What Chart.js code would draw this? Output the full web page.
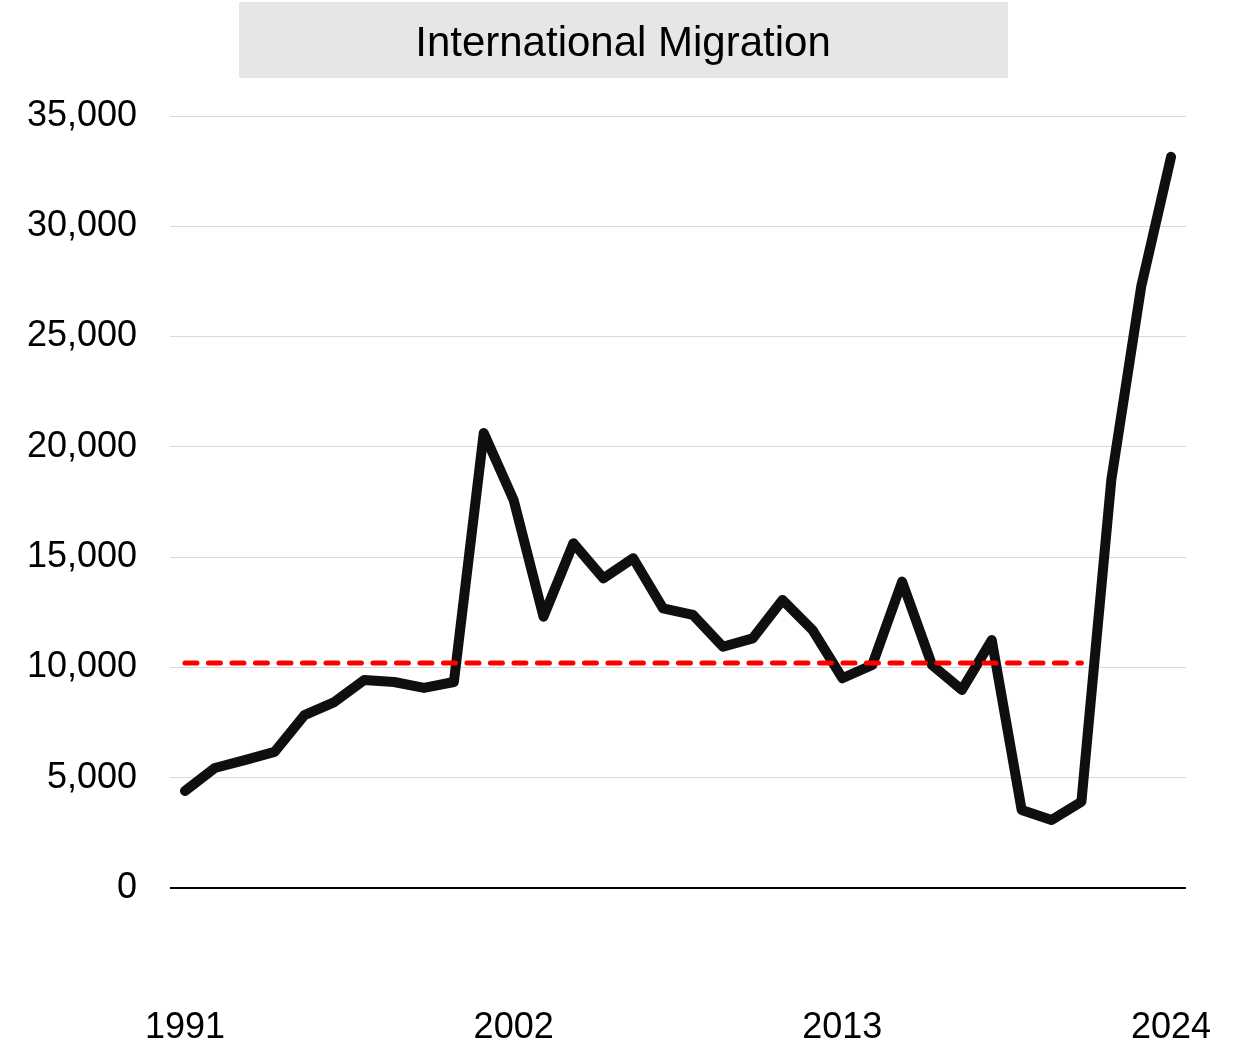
<!DOCTYPE html>
<html>
<head>
<meta charset="utf-8">
<title>International Migration</title>
<script src="https://cdn.jsdelivr.net/npm/chart.js@4.4.1/dist/chart.umd.min.js"></script>
<style>
  html, body { margin: 0; padding: 0; background: #ffffff; }
  #wrap { position: relative; width: 1234px; height: 1044px; }
</style>
</head>
<body>
<div id="wrap"><canvas id="migrationChart" width="1234" height="1044"></canvas></div>
<script>
// International Migration

const years = ['1991', '1992', '1993', '1994', '1995', '1996', '1997', '1998', '1999', '2000',
    '2001', '2002', '2003', '2004', '2005', '2006', '2007', '2008', '2009', '2010',
    '2011', '2012', '2013', '2014', '2015', '2016', '2017', '2018', '2019', '2020',
    '2021', '2022', '2023', '2024'];

const migration = [4400, 5440, 5800, 6170, 7840, 8430, 9430, 9340, 9070, 9340,
    20630, 17590, 12300, 15630, 14040, 14950, 12680, 12380, 10940, 11320,
    13060, 11700, 9510, 10110, 13890, 10110, 8980, 11240, 3540, 3080,
    3910, 18500, 27260, 33150];

// average line (1991-2021), shown dashed
const average = [10200, 10200, 10200, 10200, 10200, 10200, 10200, 10200, 10200, 10200,
    10200, 10200, 10200, 10200, 10200, 10200, 10200, 10200, 10200, 10200,
    10200, 10200, 10200, 10200, 10200, 10200, 10200, 10200, 10200, 10200,
    10200, null, null, null];

const shownYears = ['1991', '2002', '2013', '2024'];
const yTicks = [0, 5000, 10000, 15000, 20000, 25000, 30000, 35000];

const fontFamily = "'Liberation Sans', Arial, sans-serif";

// Title box drawn on the canvas
const titleBox = {
    id: 'titleBox',
    afterDraw(chart) {
        const ctx = chart.ctx;
        ctx.save();
        ctx.fillStyle = '#e6e6e6';
        ctx.fillRect(239, 2, 769, 76);
        ctx.fillStyle = '#000000';
        ctx.font = '42px ' + fontFamily;
        ctx.textAlign = 'center';
        ctx.textBaseline = 'middle';
        ctx.fillText('International Migration', 623, 44);
        ctx.restore();
    }
};

document.addEventListener('DOMContentLoaded', function() {
    const ctx = document.getElementById('migrationChart');
    new Chart(ctx, {
        type: 'line',
        data: {
            labels: years,
            datasets: [{
                label: 'Average',
                data: average,
                borderColor: '#ff0000',
                borderWidth: 5,
                borderDash: [12, 11.5],
                borderCapStyle: 'round',
                pointRadius: 0,
                fill: false,
                order: 0
            }, {
                label: 'International Migration',
                data: migration,
                borderColor: '#0f0f0f',
                borderWidth: 10,
                borderJoinStyle: 'round',
                borderCapStyle: 'round',
                pointRadius: 0,
                tension: 0,
                fill: false,
                order: 1
            }]
        },
        options: {
            responsive: false,
            animation: false,
            layout: {
                padding: { top: 116, right: 48, bottom: 0, left: 0 }
            },
            plugins: {
                legend: { display: false },
                tooltip: { enabled: false },
                title: { display: false }
            },
            scales: {
                x: {
                    offset: true,
                    grid: { display: false, drawTicks: false },
                    border: { display: false },
                    ticks: {
                        autoSkip: false,
                        maxRotation: 0,
                        padding: 118,
                        color: '#000000',
                        font: { size: 36, family: fontFamily },
                        callback: function(value, index) {
                            const y = years[index];
                            return shownYears.includes(y) ? y : '';
                        }
                    },
                    afterFit: function(scale) {
                        scale.height = 156;
                        scale.paddingLeft = 0;
                        scale.paddingRight = 0;
                    }
                },
                y: {
                    min: 0,
                    max: 35000,
                    grid: {
                        drawTicks: false,
                        color: function(c) {
                            return c.tick && c.tick.value === 0 ? '#000000' : '#d9d9d9';
                        },
                        lineWidth: function(c) {
                            return c.tick && c.tick.value === 0 ? 2 : 1;
                        }
                    },
                    border: { display: false },
                    afterBuildTicks: function(scale) {
                        scale.ticks = yTicks.map(v => ({ value: v }));
                    },
                    ticks: {
                        padding: 33,
                        color: '#000000',
                        font: { size: 36, family: fontFamily },
                        callback: function(value) {
                            return value.toLocaleString('en-US');
                        }
                    },
                    afterFit: function(scale) {
                        scale.width = 170;
                    }
                }
            }
        },
        plugins: [titleBox]
    });
});
</script>
</body>
</html>
